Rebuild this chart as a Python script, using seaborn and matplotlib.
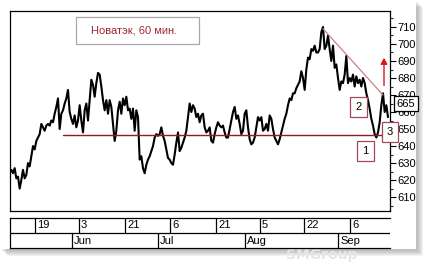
import matplotlib
matplotlib.use("Agg")
import matplotlib.pyplot as plt
from matplotlib.patches import Rectangle
import numpy as np
import pandas as pd
import seaborn as sns

# ---------------- data ----------------
title = "Новатэк, 60 мин."
price = [
    626, 624, 627, 621, 622, 615, 620, 626, 621, 623, 630, 628, 634, 640, 638, 643,
    645, 647, 653, 651, 649, 652, 653, 652, 655, 654, 659, 663, 668, 650, 659, 661,
    665, 668, 673, 660, 656, 653, 658, 651, 655, 664, 655, 648, 661, 665, 655, 667,
    679, 676, 669, 677, 683, 682, 675, 667, 661, 667, 659, 667, 663, 653, 643, 649,
    661, 666, 659, 668, 664, 669, 661, 662, 656, 662, 649, 661, 657,
    632, 634, 627, 624, 629, 632, 634, 637, 640, 645, 647, 646, 647, 651, 646, 643,
    638, 633, 632, 630, 629, 635, 642, 648, 637, 639, 642, 645, 649, 657, 665, 660,
    664, 662, 657, 659, 654, 658, 659, 651, 648, 649, 651, 643, 642, 647, 651, 654,
    652, 651, 652, 648, 645, 645, 650, 655, 660, 663, 656, 658, 653, 647, 649, 659,
    661, 651, 644, 641, 642, 645, 651, 657, 655, 657, 649,
    650, 653, 649, 658, 656, 650, 645, 643, 641, 644, 648, 652, 656, 659, 664, 668,
    667, 671, 671, 674, 676, 678, 684, 680, 673, 685, 692, 691, 697, 696, 699, 695,
    695, 697, 707, 710, 697, 699, 705, 697, 690, 699, 686, 688, 680, 673, 678, 677,
    682, 693, 677, 680, 678, 682, 675, 681, 677, 679, 675, 680, 677, 671, 667, 662,
    656, 652, 647, 645, 648, 654, 664, 671, 660, 664, 657,
]
day_labels = ["19", "3", "21", "6", "21", "5", "22", "6"]
day_bars = [14.2, 40.6, 68.2, 95.2, 122.8, 149.2, 175.6, 203.2]
month_labels = ["Jun", "Jul", "Aug", "Sep"]
month_bars = [36.4, 88.0, 140.2, 196.0]
y_ticks = [610, 620, 630, 640, 650, 660, 670, 680, 690, 700, 710]
y_minor = [605, 615, 625, 635, 645, 655, 665, 675, 685, 695, 705, 715]

support_level = 646.5
support_bars = [31.0, 222.9]
trend_bars = [187.0, 223.0]
trend_vals = [709.0, 670.0]
target_bar = 223.6
target_vals = [674.0, 693.5]
last_price = 665
marks = [("2", 208.3, 663.2), ("1", 212.5, 637.0), ("3", 227.2, 648.2)]
watermark = "SMGroup"

df = pd.DataFrame({"bar": np.arange(len(price)), "price": price})

# ---------------- style ----------------
sns.set_style("white")
plt.rcParams["font.family"] = ["Liberation Sans", "DejaVu Sans"]
plt.rcParams["font.size"] = 8

W, H = 431, 264
fig = plt.figure(figsize=(W / 100, H / 100), dpi=100)
fig.patch.set_facecolor("white")

def fx(px):
    return px / W

def fy(py):
    return 1 - py / H

# panel with soft drop shadow
x0, y0, x1, y1 = 0, 0, 416, 249
for d in [7, 6, 5, 4, 3, 2]:
    fig.patches.append(Rectangle((fx(x0 + d), fy(y1 + d)), fx(x1 - x0), (y1 - y0) / H,
                                 transform=fig.transFigure, facecolor="#808080",
                                 alpha=0.10, edgecolor="none", zorder=-20))
fig.patches.append(Rectangle((fx(x0), fy(y1)), fx(x1 - x0), (y1 - y0) / H,
                             transform=fig.transFigure, facecolor="white",
                             edgecolor="none", zorder=-10))

# faint watermark (low, under the date bar)
fig.text(fx(322), fy(255.5), watermark, fontsize=10, color="#e6e6e6",
         family="DejaVu Sans", fontweight="bold", ha="center", va="center", zorder=-5)

# ---------------- main price axes ----------------
L, R, T, B = 10, 390, 11, 211
ax = fig.add_axes([fx(L), fy(B), fx(R - L), (B - T) / H])
ax.patch.set_alpha(0)
sns.lineplot(data=df, x="bar", y="price", ax=ax, color="black", lw=1.5,
             estimator=None, zorder=3)
ax.set_xlim(-0.8, 227.2)
ax.set_ylim(601.8, 719.4)
ax.set_xlabel("")
ax.set_ylabel("")
ax.set_xticks([])
ax.yaxis.tick_right()
ax.set_yticks(y_ticks)
ax.set_yticks(y_minor, minor=True)
ax.tick_params(axis="y", which="major", length=4, width=0.8, pad=1.5,
               labelsize=8, colors="black", direction="out", right=True, left=False)
ax.tick_params(axis="y", which="minor", length=2, width=0.8, direction="out",
               right=True, left=False)
for s in ax.spines.values():
    s.set_color("black")
    s.set_linewidth(0.9)
    s.set_visible(True)

# support line
ax.plot(support_bars, [support_level, support_level], color="#8c1c2c", lw=1.0, zorder=4)
# trend line
ax.plot(trend_bars, trend_vals, color="#c8808c", lw=0.9, zorder=4)
# target arrow
ax.annotate("", xy=(target_bar, target_vals[1]), xytext=(target_bar, target_vals[0]),
            arrowprops=dict(arrowstyle="-|>,head_length=0.45,head_width=0.25",
                            color="#e0151c", lw=1.0), zorder=5)

# numbered boxes
for lab, b, v in marks:
    ax.text(b, v, lab, ha="center", va="center", fontsize=8, color="black",
            zorder=6, clip_on=False,
            bbox=dict(boxstyle="square,pad=0.45", fc="white", ec="#a04858", lw=0.9))

# last price label
ax.annotate(str(last_price), xy=(1, last_price), xycoords=("axes fraction", "data"),
            xytext=(16, 0), textcoords="offset pixels", ha="center", va="center",
            fontsize=8, color="black", zorder=7, annotation_clip=False,
            bbox=dict(boxstyle="square,pad=0.2", fc="white", ec="black", lw=0.9))

# title box
ax.add_patch(Rectangle((0.1737, 0.835), 0.3237, 0.135, transform=ax.transAxes,
                       facecolor="white", edgecolor="#a8a8a8", lw=0.9, zorder=6))
ax.text(0.326, 0.9025, title, transform=ax.transAxes, ha="center", va="center",
        fontsize=8, color="#a3262e", zorder=7)

# ---------------- date bar ----------------
DT, DB = 218, 248
ax2 = fig.add_axes([fx(L), fy(DB), fx(R - L), (DB - DT) / H])
ax2.patch.set_alpha(0)
ax2.set_xlim(-0.8, 227.2)
ax2.set_ylim(0, 2)
ax2.set_xticks([])
ax2.set_yticks([])
for name, s in ax2.spines.items():
    s.set_color("black")
    s.set_linewidth(0.9)
ax2.spines["right"].set_visible(False)
ax2.axhline(1, color="black", lw=0.9)
for b, lab in zip(day_bars, day_labels):
    ax2.plot([b, b], [1, 2], color="black", lw=0.9)
    ax2.annotate(lab, xy=(b, 1.5), xytext=(2, 0), textcoords="offset pixels",
                 ha="left", va="center", fontsize=8, color="black")
for b, lab in zip(month_bars, month_labels):
    ax2.plot([b, b], [0, 1], color="black", lw=0.9)
    ax2.annotate(lab, xy=(b, 0.5), xytext=(2, 0), textcoords="offset pixels",
                 ha="left", va="center", fontsize=8, color="black")

fig.savefig("out.png", dpi=100, facecolor="white")
